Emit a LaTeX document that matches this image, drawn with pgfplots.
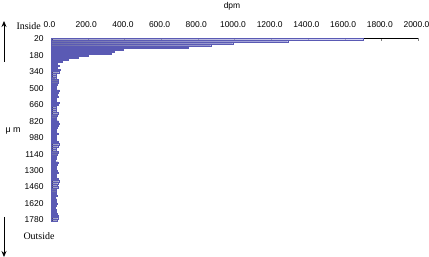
\documentclass[border=0pt]{standalone}
\usepackage{fontspec}
\setmainfont{Liberation Sans}
\newfontfamily\seriffont{Liberation Serif}
\usepackage{pgfplots}
\pgfplotsset{compat=1.18}
\usetikzlibrary{arrows.meta}
\definecolor{barnavy}{RGB}{90,90,180}
\definecolor{barlight}{RGB}{195,195,242}
\definecolor{bardark}{RGB}{110,110,170}
\begin{document}
\begin{tikzpicture}
\path[use as bounding box] (-51bp,-36bp) rectangle (378bp,221bp);
\begin{axis}[
  at={(0,0)}, anchor=south west,
  scale only axis, width=367bp, height=183bp,
  xbar, bar width=13,
  y dir=reverse,
  ymin=10, ymax=1790,
  xmin=0, xmax=2000,
  axis x line*=top, axis y line*=left,
  xtick={0,200,...,2000},
  ytick={20,180,...,1780},
  minor ytick={20,40,...,1780},
  tick align=inside,
  major tick length=3bp, minor tick length=2bp,
  ytick style={draw=none}, minor y tick style={draw=black, line width=0.3pt},
  xticklabel style={font=\fontsize{8.5}{10}\selectfont, yshift=7bp, xshift=-1.5bp, /pgf/number format/.cd, fixed, fixed zerofill, precision=1, 1000 sep={}, assume math mode=true},
  yticklabel style={font=\fontsize{8.5}{10}\selectfont, xshift=-4bp, /pgf/number format/.cd, 1000 sep={}, assume math mode=true},
  axis line style={line width=0.8pt, -},
  clip=false,
]
\addplot[draw=barnavy, line width=0.1pt, left color=bardark, right color=barlight] coordinates {
(1700,20) (1290,40) (990,60) (870,80) (745,100) (390,120) (345,140) (325,160) (200,180) (150,200) (95,220) (60,240) (35,260)
(45,280) (35,300) (48,320) (42,340) (30,360) (28,380) (25,400) (40,420) (38,440) (33,460) (30,480) (28,500)
(45,520) (40,540) (35,560) (38,580) (30,600) (25,620) (42,640) (36,660) (30,680) (28,700) (26,720) (38,740)
(34,760) (30,780) (28,800) (40,820) (42,840) (38,860) (35,880) (30,900) (26,920) (36,940) (30,960) (28,980)
(25,1000) (38,1020) (42,1040) (36,1060) (30,1080) (26,1100) (40,1120) (35,1140) (30,1160) (28,1180) (24,1200)
(38,1220) (34,1240) (30,1260) (28,1280) (32,1300) (36,1320) (30,1340) (26,1360) (38,1380) (42,1400) (36,1420)
(33,1440) (40,1460) (30,1480) (26,1500) (28,1520) (32,1540) (24,1560) (30,1580) (28,1600) (32,1620) (26,1640)
(24,1660) (30,1680) (28,1700) (35,1720) (38,1740) (36,1760) (32,1780)
};
\end{axis}
\node[font=\fontsize{8.5}{10}\selectfont] at (181bp,215bp) {dpm};
\node[font=\fontsize{9}{10}\selectfont, anchor=west] at (-49bp,90bp) {μ m};
\node[font=\seriffont\fontsize{10}{12}\selectfont, anchor=west] at (-38bp,194.5bp) {Inside};
\node[font=\seriffont\fontsize{10}{12}\selectfont, anchor=west] at (-31bp,-15bp) {Outside};
\draw[line width=0.8pt, -{Stealth[length=6bp,width=5bp]}] (-47bp,159bp) -- (-47bp,200bp);
\draw[line width=0.8pt, -{Stealth[length=6bp,width=5bp]}] (-47bp,4bp) -- (-47bp,-36bp);
\end{tikzpicture}
\end{document}
